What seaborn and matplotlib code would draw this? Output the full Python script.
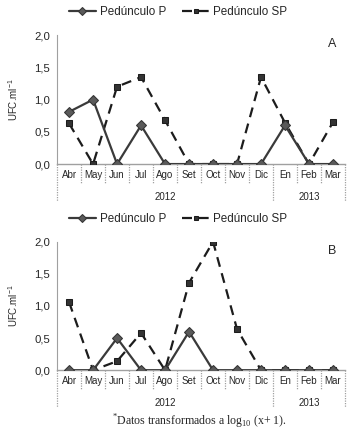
"""Monthly UFC counts (log10(x+1)) for two peduncle treatments, panels A and B."""

import matplotlib

matplotlib.use("Agg")
import matplotlib.pyplot as plt
import numpy as np
import pandas as pd
import seaborn as sns

# ---- data -----------------------------------------------------------------
months = ["Abr", "May", "Jun", "Jul", "Ago", "Set", "Oct", "Nov", "Dic",
          "En", "Feb", "Mar"]
years = ["2012", "2013"]
months_per_year = [9, 3]

panel_a_p = [0.81, 1.00, 0.0, 0.60, 0.0, 0.0, 0.0, 0.0, 0.0, 0.60, 0.0, 0.0]
panel_a_sp = [0.63, 0.0, 1.20, 1.35, 0.68, 0.0, 0.0, 0.0, 1.35, 0.64, 0.0, 0.65]

panel_b_p = [0.0, 0.0, 0.50, 0.0, 0.0, 0.60, 0.0, 0.0, 0.0, 0.0, 0.0, 0.0]
panel_b_sp = [1.06, 0.0, 0.14, 0.58, 0.0, 1.36, 2.00, 0.64, 0.0, 0.0, 0.0, 0.0]

yticks = [0.0, 0.5, 1.0, 1.5, 2.0]
ytick_labels = ["0,0", "0,5", "1,0", "1,5", "2,0"]
series_names = ["Pedúnculo P", "Pedúnculo SP"]

# ---- style ----------------------------------------------------------------
sns.set_style("white")
plt.rcParams["font.family"] = ["Liberation Sans", "DejaVu Sans"]
plt.rcParams["mathtext.fontset"] = "custom"
plt.rcParams["mathtext.rm"] = "Liberation Serif"
plt.rcParams["mathtext.sf"] = "Liberation Sans"

GRID = "#a0a0a0"


def draw_panel(ax, p_vals, sp_vals, letter):
    x = np.arange(len(months))
    df = pd.DataFrame({
        "x": np.concatenate([x, x]),
        "y": p_vals + sp_vals,
        "serie": [series_names[0]] * len(x) + [series_names[1]] * len(x),
    })
    # SP first so the solid P line sits on top where both are at zero
    sns.lineplot(data=df[df.serie == series_names[1]], x="x", y="y", ax=ax,
                 color="#1c1c1c", lw=1.6, marker="s", markersize=3.8,
                 markeredgecolor="#1c1c1c", markerfacecolor="#333333",
                 dashes=False, sort=False, label=series_names[1], zorder=3)
    ax.lines[-1].set_dashes((4.5, 3.0))
    sns.lineplot(data=df[df.serie == series_names[0]], x="x", y="y", ax=ax,
                 color="#3a3a3a", lw=1.6, marker="D", markersize=4.6,
                 markeredgecolor="#333333", markerfacecolor="#5a5a5a",
                 sort=False, label=series_names[0], zorder=4)

    ax.set_xlim(-0.5, len(months) - 0.5)
    ax.set_ylim(0, 2.0)
    ax.set_yticks(yticks)
    ax.set_yticklabels(ytick_labels, fontsize=8.2)
    ax.set_xticks(x)
    ax.set_xticklabels(months, fontsize=7)
    ax.tick_params(axis="x", length=0, pad=4.5)
    ax.tick_params(axis="y", length=2, width=0.6, color=GRID, pad=3)
    ax.set_xlabel("")
    ax.set_ylabel("UFC.ml$^{\\mathsf{-1}}$", fontsize=7)
    ax.yaxis.set_label_coords(-0.13, 0.5)

    for side in ("top", "right"):
        ax.spines[side].set_visible(False)
    ax.spines["left"].set_color(GRID)
    ax.spines["left"].set_linewidth(0.8)
    ax.spines["bottom"].set_color(GRID)
    ax.spines["bottom"].set_linewidth(1.0)

    # category separators below the axis (dotted), month and year rows
    trans = ax.get_xaxis_transform()
    year_edges = np.cumsum([0] + months_per_year) - 0.5
    for edge in np.arange(len(months) + 1) - 0.5:
        is_year = np.any(np.isclose(edge, year_edges))
        bottom = -0.29 if is_year else -0.15
        ax.plot([edge, edge], [0, bottom], transform=trans, clip_on=False,
                color=GRID, lw=0.9, ls=(0, (1, 1)), zorder=1)
    for year, lo, hi in zip(years, year_edges[:-1], year_edges[1:]):
        ax.text((lo + hi) / 2, -0.255, year, transform=trans,
                ha="center", va="center", fontsize=7)

    ax.text(0.955, 0.93, letter, transform=ax.transAxes, ha="center",
            va="center", fontsize=9)

    handles, labels = ax.get_legend_handles_labels()
    order = [labels.index(n) for n in series_names]
    ax.legend([handles[i] for i in order], [labels[i] for i in order],
              loc="center", bbox_to_anchor=(0.42, 1.18), ncol=2,
              frameon=False, fontsize=8.4, handlelength=2.3,
              handletextpad=0.35, columnspacing=1.4, markerscale=0.8)


fig = plt.figure(figsize=(3.59, 4.34), dpi=100)
ax_a = fig.add_axes([0.159, 0.622, 0.802, 0.297])
ax_b = fig.add_axes([0.159, 0.147, 0.802, 0.296])

draw_panel(ax_a, panel_a_p, panel_a_sp, "A")
draw_panel(ax_b, panel_b_p, panel_b_sp, "B")

fig.text(0.557, 0.028, "$^{*}$Datos transformados a log$_{\\mathrm{10}}$ (x+ 1).",
         ha="center", va="center", fontsize=8.6,
         family=["Liberation Serif", "DejaVu Serif"])

fig.savefig("out.png", dpi=100)
